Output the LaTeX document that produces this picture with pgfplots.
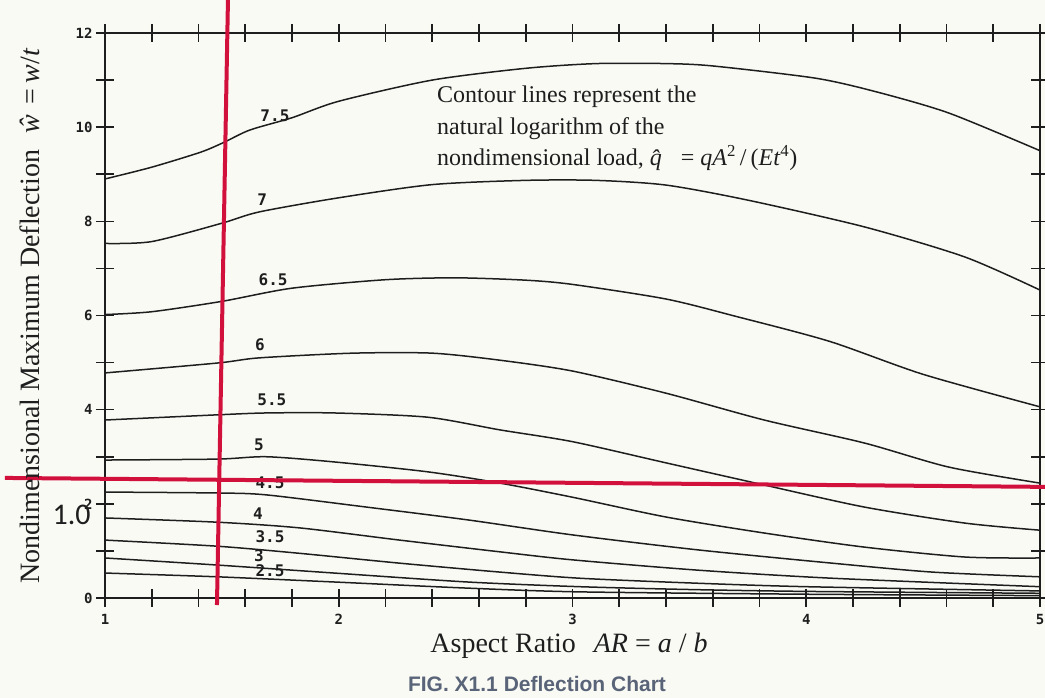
\documentclass[border=0pt]{standalone}
\usepackage{fontspec}
\setmainfont{Liberation Serif}
\newfontfamily\tickfont{DejaVu Sans Mono}
\newfontfamily\capfont{Liberation Sans}
\newfontfamily\winfont{Carlito}
\usepackage{pgfplots}
\pgfplotsset{compat=1.18}
\definecolor{bg}{HTML}{FAFAF5}
\definecolor{redline}{HTML}{D2103C}
\definecolor{capblue}{HTML}{5A6478}
\definecolor{ink}{HTML}{1E1E1E}
\pgfplotsset{contour/.style={ink, line width=1.5pt, smooth, tension=0.45, mark=none, solid}}
\begin{document}
\begin{tikzpicture}[x=1pt,y=1pt]
\fill[bg] (0,0) rectangle (1045,698);
\begin{axis}[
  at={(105pt,100pt)}, anchor=south west,
  scale only axis, width=935pt, height=565pt,
  xmin=1, xmax=5, ymin=0, ymax=12,
  xtick={1,2,3,4,5}, ytick={0,2,...,12},
  minor x tick num=4, minor y tick num=1,
  tick pos=both, ticklabel pos=left,
  tick align=center,
  major tick length=18pt, minor tick length=18pt,
  every tick/.style={ink, line width=1.6pt},
  axis line style={ink, line width=1.8pt},
  ticklabel style={font=\tickfont\bfseries\fontsize{14}{14}\selectfont, text=ink},
  xticklabel style={yshift=-4pt},
  /pgf/number format/assume math mode=true,
  clip=false,
]
% contour 7.5
\addplot[contour] coordinates {(1,8.9) (1.2,9.15) (1.41,9.47) (1.51,9.68) (1.62,9.94) (1.8,10.2) (2.0,10.55) (2.4,11.0) (2.8,11.25) (3.1,11.35) (3.4,11.35) (3.6,11.3) (4.04,11.04) (4.3,10.75) (4.61,10.3) (5,9.5)};
% contour 7
\addplot[contour] coordinates {(1,7.53) (1.2,7.57) (1.5,7.96) (1.66,8.2) (2.0,8.5) (2.4,8.78) (2.8,8.87) (3.1,8.87) (3.4,8.77) (3.75,8.45) (4.25,7.88) (4.68,7.24) (5,6.54)};
% contour 6.5
\addplot[contour] coordinates {(1,6.02) (1.2,6.08) (1.5,6.3) (1.8,6.58) (2.2,6.76) (2.5,6.8) (2.8,6.75) (3.0,6.66) (3.4,6.35) (3.7,5.98) (4.1,5.45) (4.5,4.75) (5,4.06)};
% contour 6
\addplot[contour] coordinates {(1,4.78) (1.48,4.99) (1.66,5.1) (2.06,5.2) (2.4,5.2) (2.69,5.05) (3.0,4.82) (3.4,4.35) (3.82,3.78) (4.25,3.29) (4.61,2.78) (5,2.44)};
% contour 5.5
\addplot[contour] coordinates {(1,3.78) (1.48,3.89) (1.69,3.93) (1.98,3.93) (2.38,3.84) (2.69,3.57) (3.0,3.32) (3.4,2.87) (3.82,2.40) (4.25,1.93) (4.68,1.59) (5,1.44)};
% contour 5
\addplot[contour] coordinates {(1,2.93) (1.48,2.95) (1.69,3.0) (1.98,2.89) (2.38,2.68) (2.69,2.44) (3.0,2.14) (3.4,1.72) (3.82,1.38) (4.25,1.08) (4.68,0.87) (5,0.85)};
% contour 4.5
\addplot[contour] coordinates {(1,2.25) (1.48,2.23) (1.69,2.19) (2.12,1.93) (2.55,1.66) (3.0,1.34) (3.54,1.02) (4.11,0.74) (4.54,0.55) (5,0.45)};
% contour 4
\addplot[contour] coordinates {(1,1.70) (1.48,1.61) (1.83,1.49) (2.26,1.23) (2.69,0.98) (3.0,0.81) (3.54,0.59) (4.11,0.42) (5,0.24)};
% contour 3.5
\addplot[contour] coordinates {(1,1.23) (1.48,1.10) (1.83,0.95) (2.26,0.74) (2.69,0.55) (3.03,0.42) (3.5,0.32) (4,0.24) (5,0.15)};
% contour 3
\addplot[contour] coordinates {(1,0.85) (1.48,0.70) (1.98,0.53) (2.55,0.34) (3.03,0.24) (3.5,0.18) (4,0.14) (5,0.10)};
% contour 2.5
\addplot[contour] coordinates {(1,0.53) (1.48,0.45) (1.98,0.34) (2.55,0.21) (3.03,0.13) (4,0.08) (5,0.05)};
% contour labels
\begin{scope}[every node/.style={font=\tickfont\bfseries\fontsize{16}{16}\selectfont, text=ink, inner sep=0pt}]
\node at (axis cs:1.727,10.24) {7.5};
\node at (axis cs:1.672,8.45) {7};
\node at (axis cs:1.719,6.75) {6.5};
\node at (axis cs:1.663,5.37) {6};
\node at (axis cs:1.714,4.21) {5.5};
\node at (axis cs:1.659,3.26) {5};
\node at (axis cs:1.706,2.44) {4.5};
\node at (axis cs:1.654,1.80) {4};
\node at (axis cs:1.706,1.30) {3.5};
\node at (axis cs:1.659,0.89) {3};
\node at (axis cs:1.706,0.57) {2.5};
\end{scope}
\node[font=\winfont\fontsize{30}{30}\selectfont, text=ink, inner sep=0pt] at (axis cs:0.857,1.774) {1.0};
% red overlay lines
\addplot[redline, line width=4pt, sharp plot, mark=none, solid] coordinates {(1.526,12.70) (1.479,-0.149)};
\addplot[redline, line width=4pt, sharp plot, mark=none, solid] coordinates {(0.572,2.55) (5.021,2.36)};
\end{axis}
% annotation and labels
\node[anchor=north west, align=left, font=\fontsize{24}{31.5}\selectfont, text=ink, inner sep=0pt] at (437,612)
  {Contour lines represent the\\natural logarithm of the\\nondimensional load, \textit{\^{q}}\hspace{10pt}=\hspace{6pt}\textit{qA}\textsuperscript{2}\,/\,(\textit{Et}\textsuperscript{4})};
\node[font=\fontsize{28}{28}\selectfont, text=ink, inner sep=0pt] at (569,52)
  {Aspect Ratio\hspace{18pt}\textit{AR} = \textit{a} / \textit{b}};
\node[rotate=90, font=\fontsize{28}{28}\selectfont, text=ink, inner sep=0pt] at (30,382)
  {Nondimensional Maximum Deflection\hspace{16pt}\textit{ŵ}\hspace{10pt}=\hspace{6pt}\textit{w}/\textit{t}};
\node[font=\capfont\bfseries\fontsize{21}{21}\selectfont, text=capblue, inner sep=0pt] at (537,14)
  {FIG. X1.1 Deflection Chart};
\pgfresetboundingbox
\useasboundingbox (0,0) rectangle (1045,698);
\end{tikzpicture}
\end{document}
